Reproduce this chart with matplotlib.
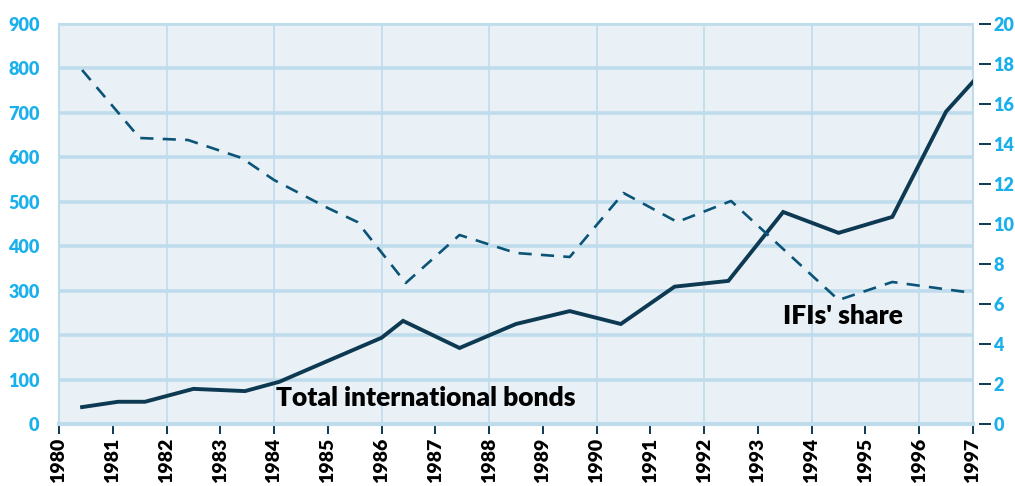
import matplotlib
matplotlib.use('Agg')
import matplotlib.pyplot as plt

plt.rcParams['font.family'] = ['Lato', 'DejaVu Sans']
plt.rcParams['font.weight'] = 'heavy'

# Total international bonds (left axis)
bond_years = [1980.43, 1981.1, 1981.6, 1982.5, 1983.46, 1984.1, 1985.0, 1986.0, 1986.4,
              1987.45, 1988.5, 1989.5, 1990.45, 1991.45, 1992.45, 1993.47, 1994.5,
              1995.5, 1996.5, 1997.0]
bond_values = [38, 50, 50, 79, 74, 95, 142, 194, 232, 171, 225, 254, 225, 309, 322,
               477, 430, 466, 703, 770]

# IFIs' share (right axis, %)
share_years = [1980.43, 1981.5, 1982.4, 1983.4, 1984.0, 1985.0, 1985.55, 1986.45,
               1987.45, 1988.5, 1989.5, 1990.5, 1991.5, 1992.5, 1994.5, 1995.5, 1997.0]
share_values = [17.7, 14.3, 14.2, 13.3, 12.2, 10.8, 10.1, 7.05, 9.45, 8.55, 8.35,
                11.55, 10.1, 11.15, 6.2, 7.1, 6.55]

years = list(range(1980, 1998))
left_ticks = list(range(0, 1000, 100))
right_ticks = list(range(0, 22, 2))

bg = '#E9F1F6'
grid_c = '#BEDCEC'
line_c = '#0D3A52'
dash_c = '#0B5478'
tick_c = '#1BB0EC'
W = 'heavy'

fig = plt.figure(figsize=(10.15, 4.86), dpi=100)
ax = fig.add_axes([0.0581, 0.1276, 0.9005, 0.823])
ax.set_facecolor(bg)

for v in left_ticks[1:]:
    ax.axhline(v, color=grid_c, lw=2.6, zorder=1)
for y in years[2:-1:2]:
    ax.axvline(y, color=grid_c, lw=1.2, zorder=1)

ax.plot(bond_years, bond_values, color=line_c, lw=2.8, zorder=3,
        solid_joinstyle='miter')

ax.set_xlim(1980, 1997)
ax.set_ylim(0, 900)
ax.set_yticks(left_ticks)
ax.tick_params(axis='y', length=0, pad=14, labelsize=13, labelcolor=tick_c)
ax.set_xticks(years)
ax.set_xticklabels([str(y) for y in years], rotation=90)
ax.tick_params(axis='x', length=7, width=1.4, color=line_c, pad=3, labelsize=14)

for s in ['left', 'top', 'right']:
    ax.spines[s].set_color(grid_c)
    ax.spines[s].set_linewidth(1.5)
ax.spines['bottom'].set_color(grid_c)
ax.spines['bottom'].set_linewidth(3)

ax2 = ax.twinx()
ax2.plot(share_years, share_values, color=dash_c, lw=1.9, dashes=(5, 3.5), zorder=3)
ax2.set_ylim(0, 20)
ax2.set_yticks(right_ticks)
ax2.spines['right'].set_position(('outward', 4.3))
ax2.spines['right'].set_alpha(0)
for s in ['left', 'top', 'bottom']:
    ax2.spines[s].set_visible(False)
ax2.tick_params(axis='y', length=8.5, width=1.4, color=line_c, pad=2,
                labelsize=13, labelcolor=tick_c)

for lbl in (ax.get_xticklabels() + ax.get_yticklabels()
            + ax2.get_yticklabels(which='both')):
    lbl.set_fontweight(W)

ax.text(1984.03, 58, 'Total international bonds', fontsize=19, fontweight=W,
        color='black', va='center', ha='left', zorder=4)
ax.text(1993.47, 243, "IFIs' share", fontsize=19, fontweight=W,
        color='black', va='center', ha='left', zorder=4)

fig.savefig('out.png', dpi=100)
